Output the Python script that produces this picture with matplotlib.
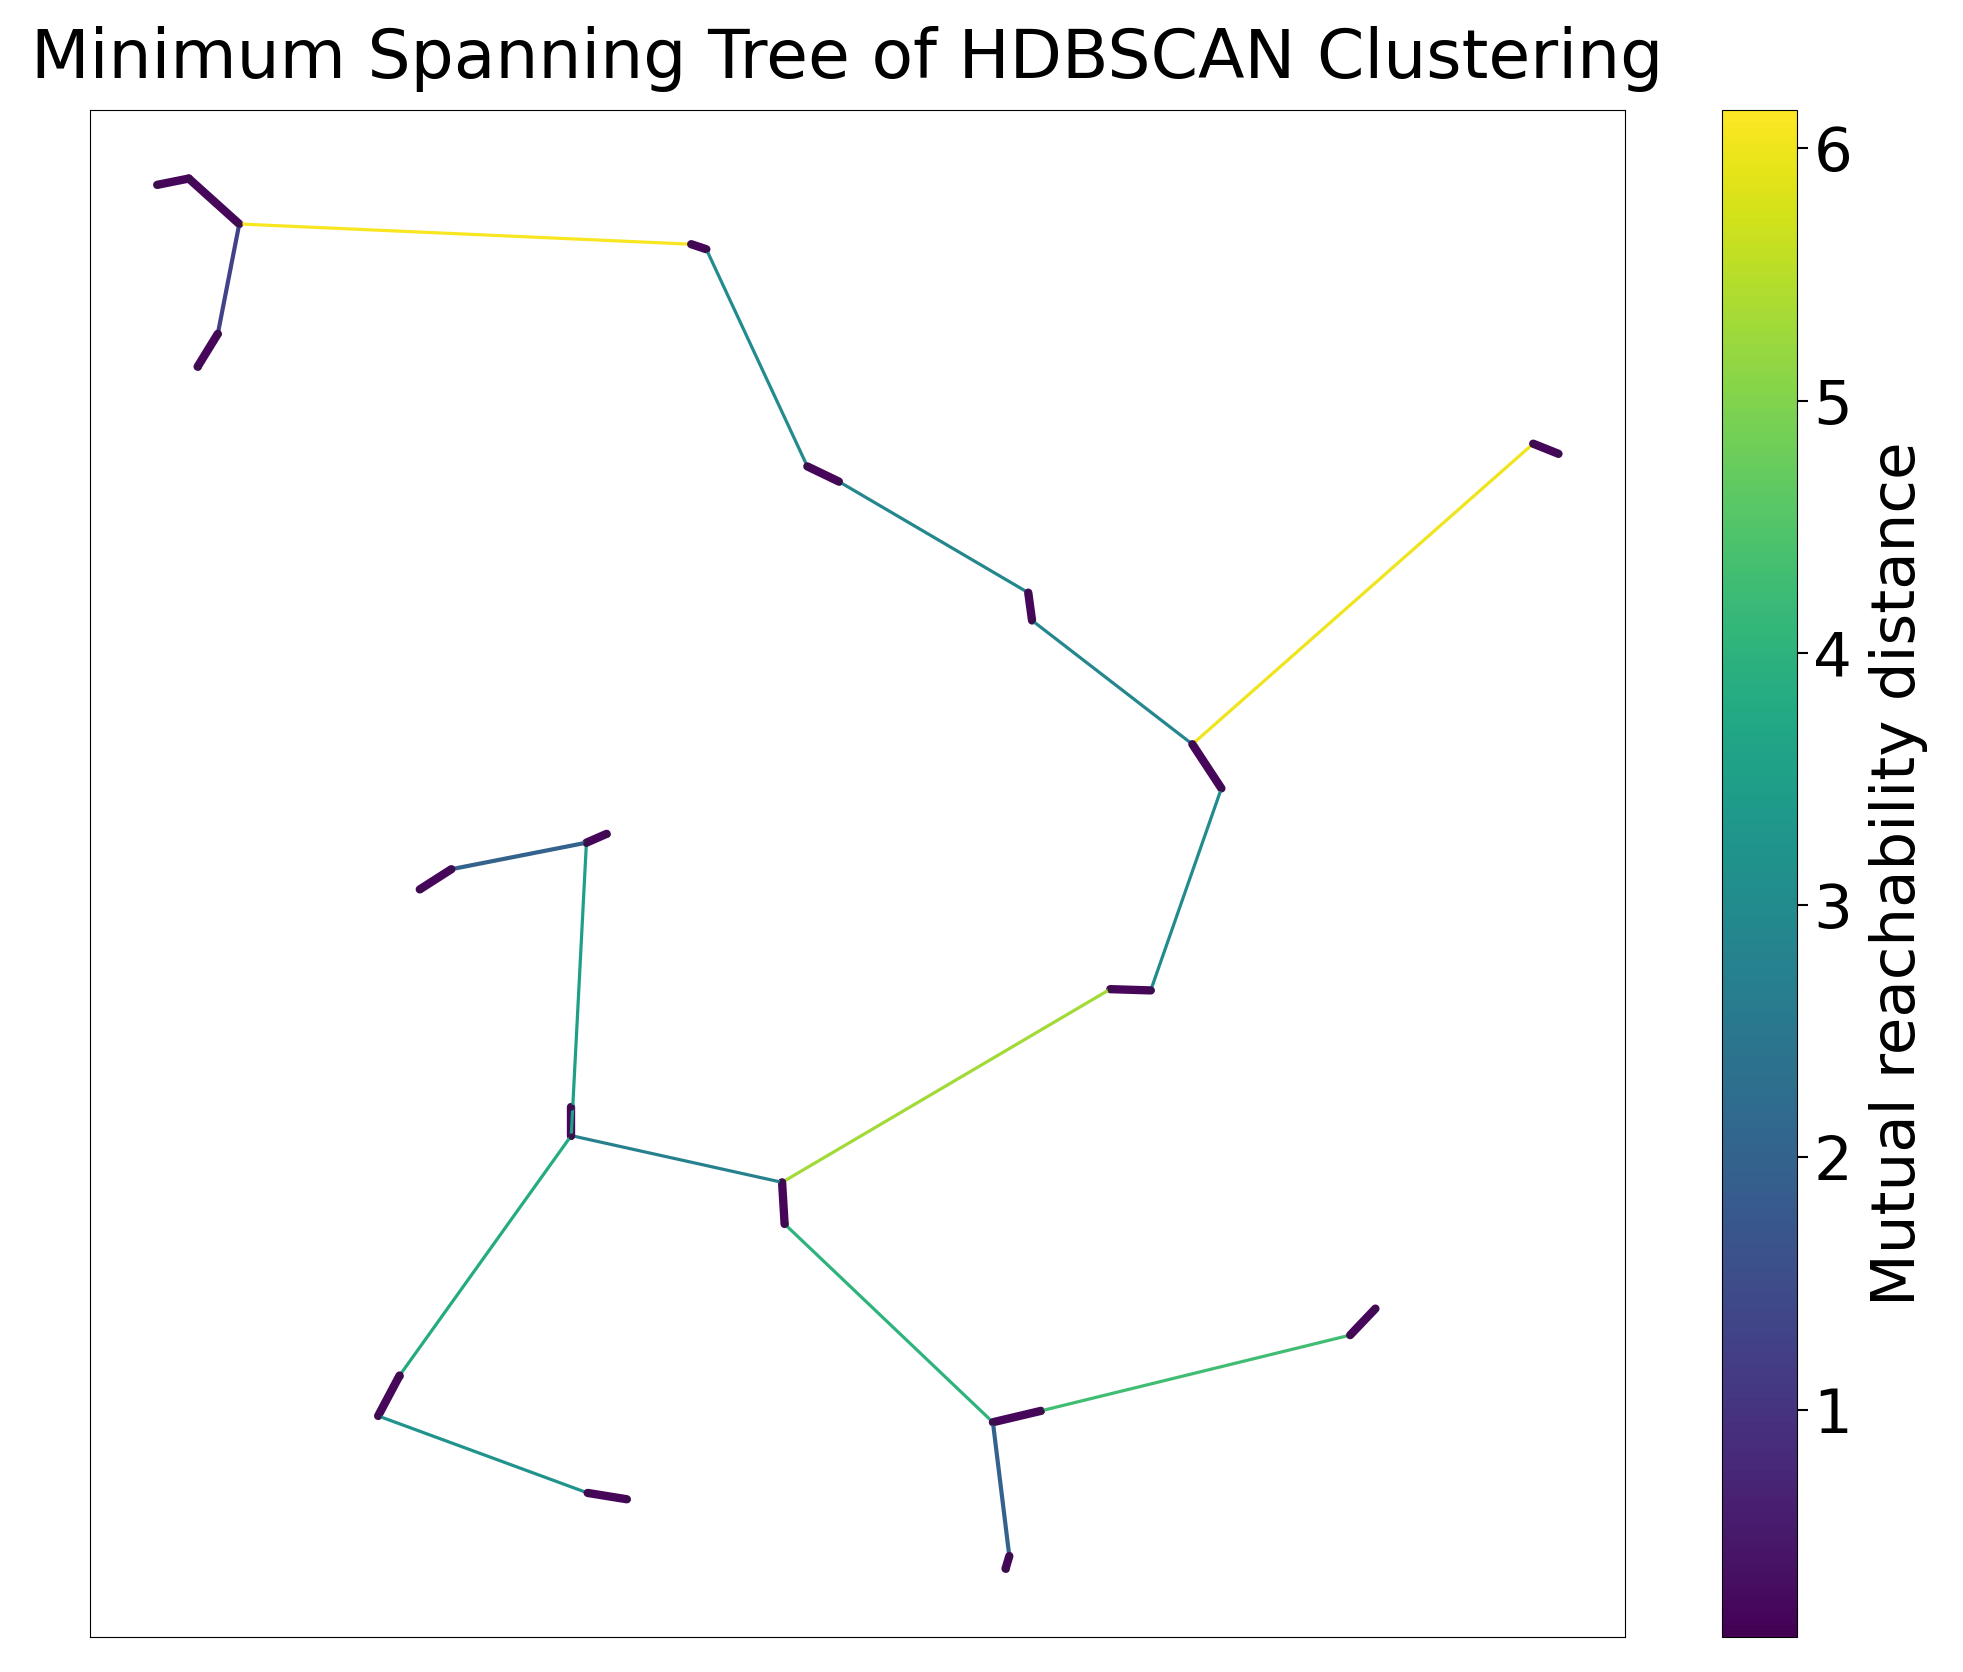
import matplotlib.pyplot as plt
import numpy as np
from matplotlib.collections import LineCollection

# node positions (layout units)
nodes = {
    "a1": (125, 147), "a2": (150, 142), "a3": (190, 178), "a4": (173, 265), "a5": (157, 291),
    "b1": (548, 194), "b2": (560, 198), "c1": (640, 370), "c2": (665, 382),
    "d1": (815, 470), "d2": (818, 492), "e1": (945, 590), "e2": (968, 625),
    "f1": (1215, 352), "f2": (1235, 360), "g1": (912, 785), "g2": (880, 784),
    "h1": (620, 937), "h2": (622, 970), "i1": (787, 1127), "i2": (825, 1118),
    "j1": (1070, 1058), "j2": (1090, 1037), "k1": (800, 1233), "k2": (797, 1243),
    "m1": (453, 900), "m2": (453, 877), "n1": (465, 668), "n2": (481, 661),
    "o1": (358, 689), "o2": (333, 705), "p1": (317, 1090), "p2": (300, 1122),
    "q1": (466, 1183), "q2": (497, 1188),
}

edges = [
    ("a1", "a2", 0.2), ("a2", "a3", 0.2), ("a3", "a4", 1.3), ("a4", "a5", 0.2),
    ("a3", "b1", 6.1), ("b1", "b2", 0.2), ("b2", "c1", 3.0), ("c1", "c2", 0.2),
    ("c2", "d1", 2.9), ("d1", "d2", 0.2), ("d2", "e1", 2.9), ("e1", "f1", 6.0),
    ("f1", "f2", 0.2), ("e1", "e2", 0.2), ("e2", "g1", 3.0), ("g1", "g2", 0.2),
    ("g2", "h1", 5.3), ("h1", "h2", 0.2), ("h2", "i1", 4.0), ("i1", "i2", 0.2),
    ("i2", "j1", 4.3), ("j1", "j2", 0.2), ("i1", "k1", 2.0), ("k1", "k2", 0.2),
    ("h1", "m1", 2.7), ("m1", "m2", 0.2), ("m1", "n1", 3.5), ("n1", "n2", 0.2),
    ("n1", "o1", 2.0), ("o1", "o2", 0.2), ("m1", "p1", 3.8), ("p1", "p2", 0.2),
    ("p2", "q1", 3.2), ("q1", "q2", 0.2),
]

segs = [[nodes[u], nodes[v]] for u, v, _ in edges]
vals = np.array([w for _, _, w in edges])
widths = np.where(vals < 1, 6.0, np.where(vals < 2.1, 3.0, 2.3))

fig = plt.figure(figsize=(19.63, 16.72), dpi=100)
ax = fig.add_axes([0.046, 0.021, 0.782, 0.913])
lc = LineCollection(segs, cmap="viridis", linewidths=widths, capstyle="round")
lc.set_array(vals)
lc.set_clim(0.1, 6.15)
ax.add_collection(lc)
pts = np.array(list(nodes.values()))
ax.scatter(pts[:, 0], pts[:, 1], s=12, color="#3a0f4a", zorder=3)
ax.set_xlim(72, 1288)
ax.set_ylim(1297, 88)
ax.set_xticks([])
ax.set_yticks([])
fig.text(0.016, 0.945, "Minimum Spanning Tree of HDBSCAN Clustering", fontsize=49,
         ha="left", va="bottom")

cax = fig.add_axes([0.877, 0.021, 0.0386, 0.913])
cb = fig.colorbar(lc, cax=cax)
cb.set_ticks([1, 2, 3, 4, 5, 6])
cb.ax.tick_params(labelsize=44, length=8, width=1.5)
cb.set_label("Mutual reachability distance", fontsize=44, labelpad=12)

fig.savefig("out.png", dpi=100)
